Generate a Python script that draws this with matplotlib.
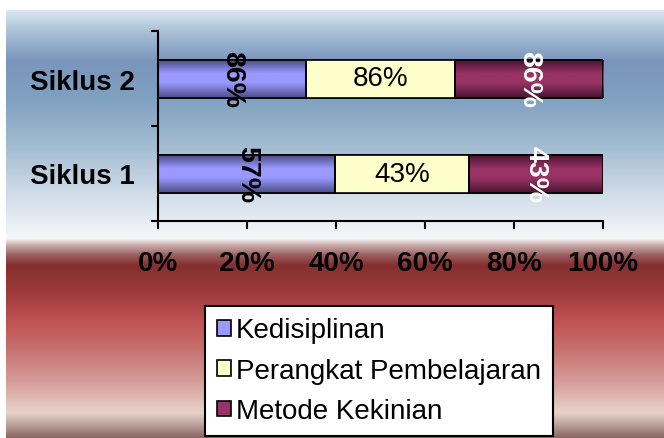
import numpy as np
import matplotlib
matplotlib.use("Agg")
import matplotlib.pyplot as plt
from matplotlib.colors import to_rgb
from matplotlib.patches import Patch

plt.rcParams['font.family'] = ['Liberation Sans', 'DejaVu Sans']

# data (raw scores, shown as labels; bars are stacked to 100%)
categories = ['Siklus 1', 'Siklus 2']
series_names = ['Kedisiplinan', 'Perangkat Pembelajaran', 'Metode Kekinian']
kedisiplinan = [57, 86]
perangkat = [43, 86]
metode = [43, 86]
x_ticks = [0, 20, 40, 60, 80, 100]

W, H = 664, 439
fig = plt.figure(figsize=(W / 100, H / 100), dpi=100)


def vgrad(stops, n=400):
    # stops: list of (pixel y, colour); returns an n x 1 x 3 array top->bottom
    ys = np.array([s[0] for s in stops], float)
    cols = np.array([to_rgb(s[1]) for s in stops])
    yy = np.linspace(ys[0], ys[-1], n)
    img = np.stack([np.interp(yy, ys, cols[:, k]) for k in range(3)], axis=1)
    return img[:, None, :]


# background panels
bg = fig.add_axes([0, 0, 1, 1], zorder=-10)
bg.set_xlim(0, W)
bg.set_ylim(H, 0)
bg.axis('off')
blue = vgrad([(11, '#dde9f3'), (30, '#aec4d9'), (62, '#7a95bb'), (100, '#80a1c1'),
              (150, '#a6bed3'), (200, '#d4dfea'), (240, '#f6f8fa')])
red = vgrad([(240, '#f4eeee'), (246, '#c9abab'), (256, '#9b5f5f'), (266, '#862f2f'),
             (292, '#9c3a3a'), (322, '#c05252'), (348, '#c66e6c'), (382, '#d59c97'),
             (414, '#e9d2cb'), (424, '#c2aaa3'), (439, '#8a6661')])
bg.imshow(blue, extent=(6, W, 240, 11), aspect='auto', interpolation='bilinear')
bg.imshow(red, extent=(6, W, 439, 240), aspect='auto', interpolation='bilinear')

ax = fig.add_axes([158 / W, 1 - 222 / H, (603 - 158) / W, (222 - 32) / H])
ax.patch.set_alpha(0)

raw = np.array([kedisiplinan, perangkat, metode], float)
share = raw / raw.sum(axis=0) * 100
y = np.arange(len(categories))
base_cols = ['#9999ff', '#ffffcc', '#993366']
edge_cols = ['#4e4e88', '#ffffcc', '#4a1530']
bar_h = 0.4

left = np.zeros(len(categories))
for i, name in enumerate(series_names):
    bars = ax.barh(y, share[i], left=left, height=bar_h, color=base_cols[i],
                   edgecolor='black', linewidth=1.2, zorder=2)
    grad = vgrad([(0, edge_cols[i]), (0.35, base_cols[i]), (0.6, base_cols[i]),
                  (1, edge_cols[i])], n=60)
    for b in bars:
        ax.imshow(grad, extent=(b.get_x(), b.get_x() + b.get_width(),
                                b.get_y(), b.get_y() + b.get_height()),
                  aspect='auto', interpolation='bilinear', zorder=2.5)
        b2 = plt.Rectangle((b.get_x(), b.get_y()), b.get_width(), b.get_height(),
                           fill=False, edgecolor='black', linewidth=1.2, zorder=3)
        ax.add_patch(b2)
    for j in range(len(categories)):
        cx = left[j] + share[i][j] / 2
        txt = f'{int(raw[i][j])}%'
        if i == 0:
            ax.text(cx, y[j], txt, rotation=270, ha='center', va='center',
                    fontsize=20.5, fontweight='bold', color='black', zorder=4)
        elif i == 1:
            ax.text(cx, y[j], txt, ha='center', va='center',
                    fontsize=20, color='black', zorder=4)
        else:
            ax.text(cx, y[j], txt, rotation=270, ha='center', va='center',
                    fontsize=20.5, fontweight='bold', color='white', zorder=4)
    left = left + share[i]

ax.set_xlim(0, 100)
ax.set_ylim(-0.5, 1.5)
ax.set_xticks(x_ticks)
ax.set_xticklabels([f'{t}%' for t in x_ticks], fontsize=20, fontweight='bold')
ax.set_yticks([-0.5, 0.5, 1.5])
ax.set_yticklabels([])
ax.set_yticks(y, minor=True)
ax.set_yticklabels(categories, minor=True, fontsize=20, fontweight='bold')
ax.tick_params(axis='y', which='minor', length=0, pad=17)
ax.tick_params(axis='y', which='major', length=5, width=1.5, direction='out')
ax.tick_params(axis='x', length=6, width=1.5, direction='out', pad=15)
for s in ['top', 'right']:
    ax.spines[s].set_visible(False)
for s in ['left', 'bottom']:
    ax.spines[s].set_linewidth(1.5)

handles = [Patch(facecolor=c, edgecolor='black', linewidth=1.2) for c in base_cols]
leg = fig.legend(handles, series_names, loc='lower left', bbox_to_anchor=(205 / W, 1 - 437 / H),
                 fontsize=20, frameon=True, fancybox=False, edgecolor='black',
                 framealpha=1, handlelength=0.5, handleheight=0.5, handletextpad=0.2,
                 labelspacing=0.52, borderpad=0.42, borderaxespad=0)
leg.get_frame().set_linewidth(1.5)

fig.savefig('out.png', dpi=100)
